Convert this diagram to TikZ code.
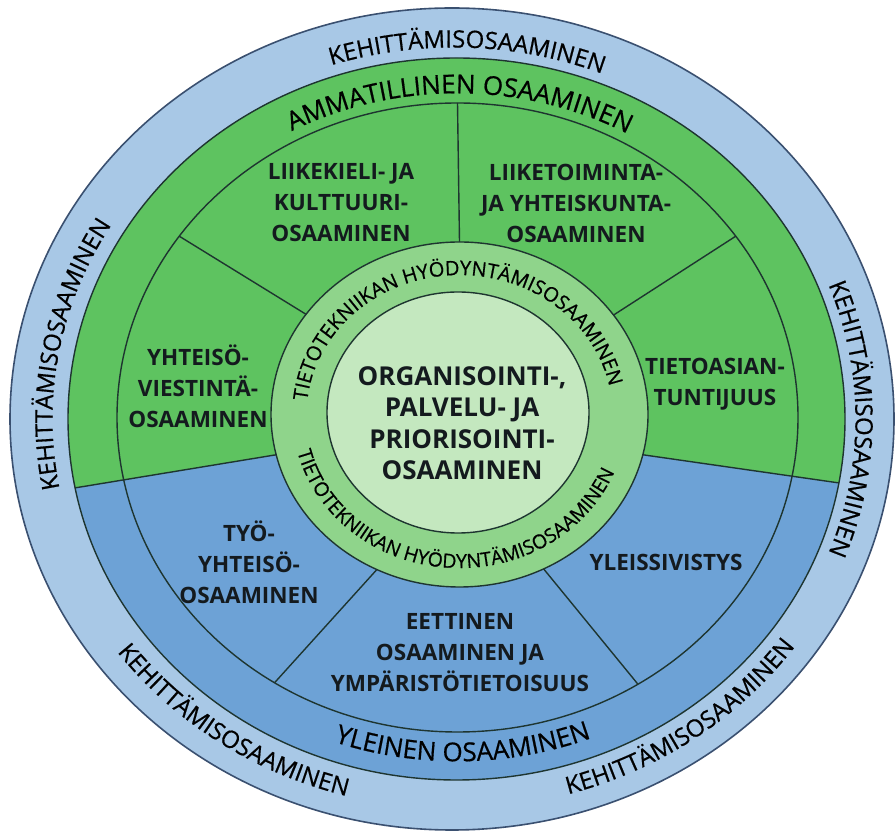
\documentclass[tikz,border=0pt]{standalone}
\usepackage{fontspec}
\setmainfont{Open Sans}
\newfontfamily\medfont[FakeBold=0.6]{Open Sans}
\usetikzlibrary{calc,decorations.text}
\definecolor{outerblue}{HTML}{A8C8E6}
\definecolor{outeredge}{HTML}{3A5070}
\definecolor{secblue}{HTML}{6DA2D6}
\definecolor{secgreen}{HTML}{5EC360}
\definecolor{ringgreen}{HTML}{8FD48B}
\definecolor{coregreen}{HTML}{C4E8BF}
\definecolor{linecol}{HTML}{1E3530}
\definecolor{txt}{HTML}{141A1E}
\newcommand\outfont{\medfont\fontsize{24}{24}\selectfont}
\newcommand\bandfont{\medfont\fontsize{26}{26}\selectfont}
\newcommand\ringfont{\medfont\fontsize{20}{20}\selectfont}
\newcommand\ringfontb{\medfont\fontsize{19.5}{19.5}\selectfont}
\begin{document}
\begin{tikzpicture}[x=1pt,y=1pt,
  sep/.style={draw=linecol, line width=1.4pt},
  lbl/.style={font=\bfseries\fontsize{22.5}{31}\selectfont, align=center, text=txt, inner sep=0pt}]
\useasboundingbox (0,0) rectangle (896,832);
\coordinate (O1) at (452,413);
\coordinate (D) at (456.5,413);
\coordinate (L) at (457.5,414.5);
\coordinate (R) at (459.5,417.5);
\coordinate (K) at (458,419.5);
\coordinate (TO) at (454,413);
\coordinate (TB) at (457,414);
\coordinate (W) at (0,0);
\coordinate (E) at (896,832);
% outer ring
\filldraw[fill=outerblue, draw=outeredge, line width=1.6pt] (O1) ellipse [x radius=442, y radius=411];
% main disk
\fill[secblue] (D) ellipse [x radius=388.5, y radius=361];
\coordinate (P1) at ($(D)+(191:388.5 and 361)$);
\coordinate (P2) at ($(R)+(193.5:188.5 and 172.5)$);
\coordinate (P3) at ($(R)+(-13.5:188.5 and 172.5)$);
\coordinate (P4) at ($(D)+(-10.2:388.5 and 361)$);
\begin{scope}
\clip (D) ellipse [x radius=388.5, y radius=361];
\fill[secgreen] (P1 -| W) -- (P1) -- (P2) -- (P3) -- (P4) -- (P4 -| E) -- (E) -- (E -| W) -- cycle;
\end{scope}
\draw[sep] (D) ellipse [x radius=388.5, y radius=361];
\draw[sep] (L) ellipse [x radius=340.5, y radius=314.5];
\draw[sep] (P1) -- (P2);
\draw[sep] (P3) -- (P4);
\draw[sep] ($(R)+(90:188.5 and 172.5)$) -- ($(L)+(90:340.5 and 314.5)$);
\draw[sep] ($(R)+(144.5:188.5 and 172.5)$) -- ($(L)+(144.8:340.5 and 314.5)$);
\draw[sep] ($(R)+(35.2:188.5 and 172.5)$) -- ($(L)+(35.2:340.5 and 314.5)$);
\draw[sep] ($(R)+(244:188.5 and 172.5)$) -- ($(L)+(237.5:340.5 and 314.5)$);
\draw[sep] ($(R)+(-63.5:188.5 and 172.5)$) -- ($(L)+(-58:340.5 and 314.5)$);
% central rings
\filldraw[fill=ringgreen, draw=linecol, line width=1.4pt] (R) ellipse [x radius=188.5, y radius=172.5];
\filldraw[fill=coregreen, draw=linecol, line width=1.4pt] (K) ellipse [x radius=131, y radius=120.5];
% outer ring texts
\path[decorate, decoration={text along path, text align=center, text={|\outfont|KEHITTÄMISOSAAMINEN}}]
  ($(TO)+(138:401.5 and 371.5)$) arc [start angle=138, end angle=38, x radius=401.5, y radius=371.5];
\path[decorate, decoration={text along path, text align=center, text={|\outfont|KEHITTÄMISOSAAMINEN}}]
  ($(TO)+(220:401.5 and 371.5)$) arc [start angle=220, end angle=120, x radius=401.5, y radius=371.5];
\path[decorate, decoration={text along path, text align=center, text={|\outfont|KEHITTÄMISOSAAMINEN}}]
  ($(TO)+(50:401.5 and 371.5)$) arc [start angle=50, end angle=-50, x radius=401.5, y radius=371.5];
\path[decorate, decoration={text along path, text align=center, text={|\outfont|KEHITTÄMISOSAAMINEN}}]
  ($(TO)+(185:420 and 390)$) arc [start angle=185, end angle=285, x radius=420, y radius=390];
\path[decorate, decoration={text along path, text align=center, text={|\outfont|KEHITTÄMISOSAAMINEN}}]
  ($(TO)+(256:420 and 390)$) arc [start angle=256, end angle=356, x radius=420, y radius=390];
% band texts
\path[decorate, decoration={text along path, text align=center, text={|\bandfont|AMMATILLINEN OSAAMINEN}}]
  ($(TB)+(139.5:352.7 and 324.7)$) arc [start angle=139.5, end angle=39.5, x radius=352.7, y radius=324.7];
\path[decorate, decoration={text along path, text align=center, text={|\bandfont|YLEINEN OSAAMINEN}}]
  ($(TB)+(221:371.3 and 343.3)$) arc [start angle=221, end angle=321, x radius=371.3, y radius=343.3];
% ring texts
\path[decorate, decoration={text along path, text align=center, text={|\ringfont|TIETOTEKNIIKAN HYÖDYNTÄMISOSAAMINEN}}]
  ($(R)+(181:152.9 and 139.4)$) arc [start angle=181, end angle=5, x radius=152.9, y radius=139.4];
\path[decorate, decoration={text along path, text align=center, text={|\ringfontb|TIETOTEKNIIKAN HYÖDYNTÄMISOSAAMINEN}}]
  ($(R)+(186:167.1 and 153.6)$) arc [start angle=186, end angle=346, x radius=167.1, y radius=153.6];
% sector labels
\node[lbl] (liikekieli) at (341,629) {LIIKEKIELI- JA\\KULTTUURI-\\OSAAMINEN};
\node[lbl] (liiketoiminta) at (576,629) {LIIKETOIMINTA-\\JA YHTEISKUNTA-\\OSAAMINEN};
\node[lbl] (yhteiso) at (198,446) {YHTEISÖ-\\VIESTINTÄ-\\OSAAMINEN};
\node[lbl] (tietoasian) at (715,447.5) {TIETOASIAN-\\TUNTIJUUS};
\node[lbl] (tyoyhteiso) at (249,270) {TYÖ-\\YHTEISÖ-\\OSAAMINEN};
\node[lbl] (yleis) at (666,270) {YLEISSIVISTYS};
\node[lbl] (eettinen) at (460,179.5) {EETTINEN\\OSAAMINEN JA\\YMPÄRISTÖTIETOISUUS};
\node[lbl, font=\bfseries\fontsize{26}{31.5}\selectfont] (core) at (462,409) {ORGANISOINTI-,\\PALVELU- JA\\PRIORISOINTI-\\OSAAMINEN};
\end{tikzpicture}
\end{document}
